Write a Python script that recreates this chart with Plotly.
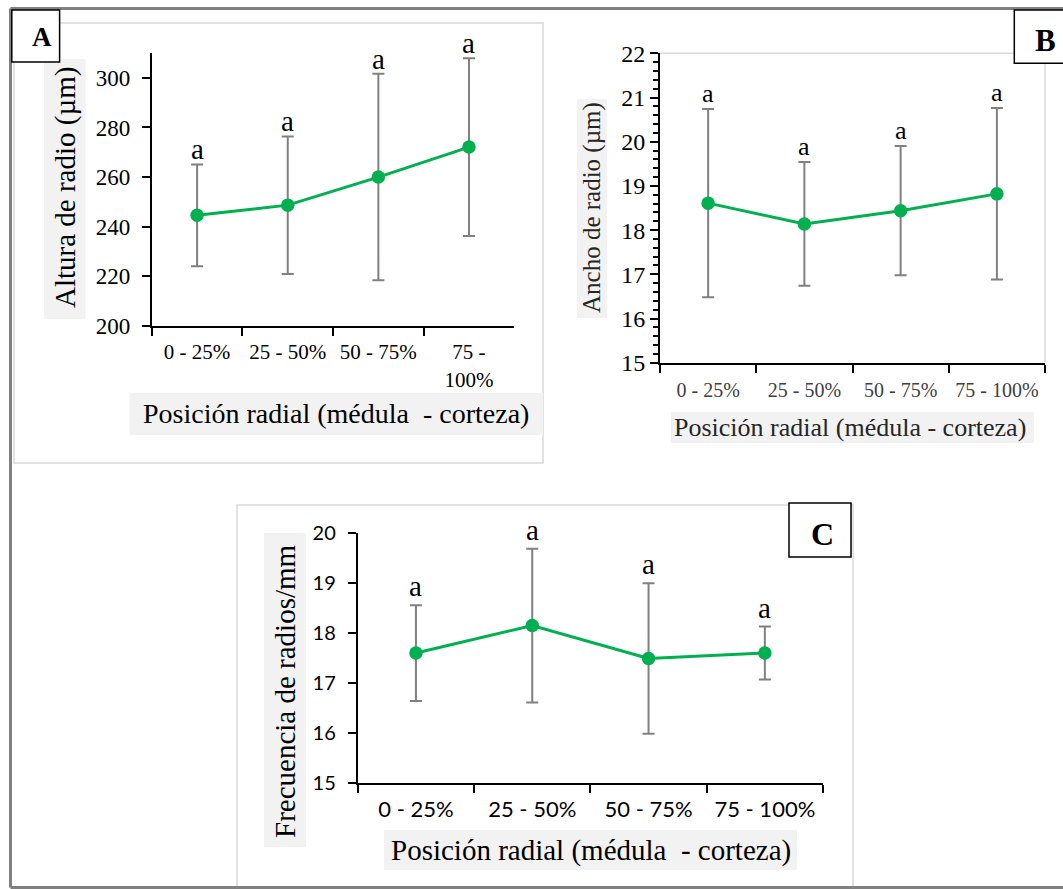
import plotly.graph_objects as go

W, H = 1063, 889
SERIF = "Liberation Serif, Times New Roman, serif"
SANS = "Lato, Carlito, Calibri, sans-serif"
GREEN = "#00B050"
ERR_GREY = "#808080"

# ---- data -------------------------------------------------------------
categories = ["0 - 25%", "25 - 50%", "50 - 75%", "75 - 100%"]
categories_a = ["0 - 25%", "25 - 50%", "50 - 75%", "75 -<br>100%"]

altura_mean = [244.6, 248.7, 260.0, 272.1]
altura_sd = [20.5, 27.7, 41.6, 35.8]

ancho_mean = [18.61, 18.14, 18.44, 18.82]
ancho_sd = [2.13, 1.40, 1.46, 1.94]

frecuencia_mean = [17.60, 18.15, 17.49, 17.60]
frecuencia_sd = [0.96, 1.54, 1.51, 0.53]

letters_a = ["a", "a", "a", "a"]
letters_b = ["a", "a", "a", "a"]
letters_c = ["a", "a", "a", "a"]

x_title = "Posición radial (médula - corteza)"
x_title_wide = "Posición radial (médula\u00a0 - corteza)"
y_title_a = "Altura de radio (µm)"
y_title_b = "Ancho de radio (µm)"
y_title_c = "Frecuencia de radios/mm"


def fx(p):
    return p / W


def fy(p):
    return 1 - p / H


fig = go.Figure()

panels = [
    dict(ax="", cats=categories_a, mean=altura_mean, sd=altura_sd, letters=letters_a,
         xdom=(151.8, 514.3), ydom=(326, 53), yrange=[200, 310], dtick=20, tick0=200,
         yfont=dict(family=SERIF, size=23, color="black"), ystand=7,
         xfont=dict(family=SERIF, size=21, color="black"), xstand=6,
         afont=29, ashift=-3, minor=None),
    dict(ax="2", cats=categories, mean=ancho_mean, sd=ancho_sd, letters=letters_b,
         xdom=(660, 1045), ydom=(362.7, 53.3), yrange=[15, 22], dtick=1, tick0=15,
         yfont=dict(family=SERIF, size=24, color="black"), ystand=0,
         xfont=dict(family=SERIF, size=20, color="#404040"), xstand=8,
         afont=26, ashift=-1, minor=0.2),
    dict(ax="3", cats=categories, mean=frecuencia_mean, sd=frecuencia_sd, letters=letters_c,
         xdom=(357.8, 823), ydom=(782.7, 533.3), yrange=[15, 20], dtick=1, tick0=15,
         yfont=dict(family=SANS, size=20, color="black"), ystand=8,
         xfont=dict(family=SANS, size=22, color="black"), xstand=6,
         afont=29, ashift=1, minor=None),
]

annotations = []
for p in panels:
    fig.add_trace(go.Scatter(
        x=p["cats"], y=p["mean"],
        error_y=dict(type="data", array=p["sd"], symmetric=True,
                     color=ERR_GREY, thickness=2, width=6),
        mode="lines+markers",
        line=dict(color=GREEN, width=3),
        marker=dict(size=13.5, color=GREEN),
        xaxis="x" + p["ax"], yaxis="y" + p["ax"],
        showlegend=False, cliponaxis=False, hoverinfo="skip",
    ))
    xa = dict(
        domain=[fx(p["xdom"][0]), fx(p["xdom"][1])], anchor="y" + p["ax"],
        type="category", tickson="boundaries", range=[-0.5, 3.5],
        ticks="outside", ticklen=8, tickwidth=2, tickcolor="black",
        showline=True, linecolor="black", linewidth=2, automargin=False,
        showgrid=False, zeroline=False, fixedrange=True,
        tickfont=p["xfont"], ticklabelstandoff=p["xstand"],
    )
    ya = dict(
        domain=[fy(p["ydom"][0]), fy(p["ydom"][1])], anchor="x" + p["ax"],
        range=p["yrange"], tick0=p["tick0"], dtick=p["dtick"],
        ticks="outside", ticklen=8, tickwidth=2, tickcolor="black",
        showline=True, linecolor="black", linewidth=2, automargin=False,
        showgrid=False, zeroline=False, fixedrange=True,
        tickfont=p["yfont"], ticklabelstandoff=p["ystand"],
    )
    if p["minor"]:
        ya["minor"] = dict(dtick=p["minor"], ticks="outside", ticklen=5,
                           tickwidth=1.5, tickcolor="black", showgrid=False)
    fig.update_layout(**{"xaxis" + p["ax"]: xa, "yaxis" + p["ax"]: ya})

    for c, m, s, l in zip(p["cats"], p["mean"], p["sd"], p["letters"]):
        annotations.append(dict(
            x=c, y=m + s, xref="x" + p["ax"], yref="y" + p["ax"], text=l,
            showarrow=False, yanchor="bottom", yshift=p["ashift"],
            font=dict(family=SERIF, size=p["afont"], color="black"),
        ))

# ---- frames, title backgrounds and panel letters -----------------------
shapes = []


def rect(x0, y0, x1, y1, **kw):
    d = dict(type="rect", xref="paper", yref="paper",
             x0=fx(x0), x1=fx(x1), y0=fy(y0), y1=fy(y1))
    d.update(kw)
    shapes.append(d)


def line(x0, y0, x1, y1, color, width):
    shapes.append(dict(type="line", xref="paper", yref="paper",
                       x0=fx(x0), x1=fx(x1), y0=fy(y0), y1=fy(y1),
                       line=dict(color=color, width=width)))


# chart-area borders
rect(14, 23, 543, 463, line=dict(color="#d9d9d9", width=1.5), fillcolor="rgba(0,0,0,0)")
rect(237, 505, 853, 895, line=dict(color="#d9d9d9", width=1.5), fillcolor="rgba(0,0,0,0)")
line(660, 53.3, 1045, 53.3, "#d9d9d9", 1.5)
line(1045, 53.3, 1045, 362.7, "#d9d9d9", 1.5)

# outer frame
line(10.5, 8.5, 1070, 8.5, "#808080", 3)
line(10.5, 8.5, 10.5, 887.5, "#808080", 3)
line(10.5, 887.5, 1070, 887.5, "#808080", 3)

# title backgrounds
BG = "#f2f2f2"
rect(44, 59, 85.7, 319, fillcolor=BG, line=dict(width=0))
rect(129.6, 393, 543, 435, fillcolor=BG, line=dict(width=0))
rect(577, 99, 607, 318, fillcolor=BG, line=dict(width=0))
rect(671, 412, 1034, 443, fillcolor=BG, line=dict(width=0))
rect(264, 533, 306, 847, fillcolor=BG, line=dict(width=0))
rect(384, 830, 797, 870, fillcolor=BG, line=dict(width=0))

# panel letter boxes
rect(11.8, 10, 59.6, 62, fillcolor="white", line=dict(color="black", width=1.5))
rect(1014.3, 10, 1075, 63.3, fillcolor="white", line=dict(color="black", width=1.5))
rect(789, 503, 851, 557, fillcolor="white", line=dict(color="black", width=1.5))


def text(x, y, s, size, color="black", angle=0, bold=False):
    annotations.append(dict(
        x=fx(x), y=fy(y), xref="paper", yref="paper", text=f"<b>{s}</b>" if bold else s,
        showarrow=False, xanchor="center", yanchor="middle", textangle=angle,
        font=dict(family=SERIF, size=size, color=color),
    ))


text(42, 37, "A", 27, bold=True)
text(1045, 41, "B", 31, bold=True)
text(822, 534, "C", 32, bold=True)

text(65, 188, y_title_a, 29, angle=-90)
text(336, 413, x_title_wide, 28)
text(592, 208, y_title_b, 25, color="#262626", angle=-90)
text(849.5, 427, x_title, 26, color="#262626")
text(285, 691, y_title_c, 29, angle=-90)
text(591, 850, x_title_wide, 29)

fig.update_layout(
    template="none",
    width=W, height=H, autosize=False,
    margin=dict(l=0, r=0, t=0, b=0, pad=0, autoexpand=False),
    paper_bgcolor="white", plot_bgcolor="rgba(0,0,0,0)",
    shapes=shapes, annotations=annotations,
    showlegend=False,
)

fig.write_html("out.html")
